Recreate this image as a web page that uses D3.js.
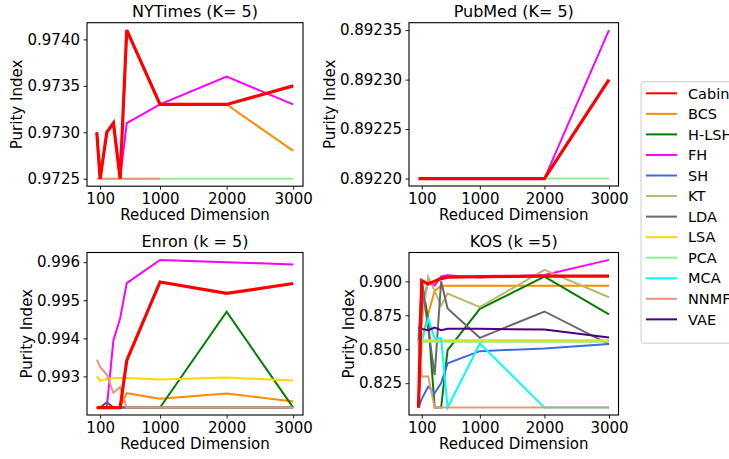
<!DOCTYPE html>
<html><head><meta charset="utf-8">
<script src="https://cdn.jsdelivr.net/npm/d3@7"></script>
<style>
html,body{margin:0;padding:0;background:#fff;}
svg{display:block;font-family:"DejaVu Sans",sans-serif;}
</style></head>
<body>
<svg id="chart" width="729" height="459"></svg>
<script>
// ---------- data ----------
const xValues = [50, 100, 200, 300, 400, 500, 1000, 2000, 3000];
const xTicks = [100, 1000, 2000, 3000];
const methods = ["Cabin","BCS","H-LSH","FH","SH","KT","LDA","LSA","PCA","MCA","NNMF","VAE"];
const methodColors = ["#ff0000","#ff8c00","#008000","#ff00ff","#4169e1","#bdb76b","#696969","#ffd700","#90ee90","#00ffff","#e9967a","#4b0082"];

// NYTimes (K= 5)
const nytCabin = [0.9730, 0.9725, 0.9730, 0.9731, 0.9725, 0.9741, 0.9733, 0.9733, 0.9735];
const nytBCS   = [0.9730, 0.9725, 0.9730, 0.9731, 0.9725, 0.9741, 0.9733, 0.9733, 0.9728];
const nytFH    = [0.9730, 0.9725, 0.9730, 0.9731, 0.9725, 0.9731, 0.9733, 0.9736, 0.9733];
const nytPCA   = [0.9725, 0.9725, 0.9725, 0.9725, 0.9725, 0.9725, 0.9725, 0.9725, 0.9725];
const nytNNMF  = [0.9725, 0.9725, 0.9725, 0.9725, 0.9725, 0.9725, 0.9725, null, null];
const nytYTicks = [0.9725, 0.9730, 0.9735, 0.9740];

// PubMed (K= 5)
const pubCabin = [0.8922, 0.8922, 0.8922, 0.8922, 0.8922, 0.8922, 0.8922, 0.8922, 0.8923];
const pubFH    = [0.8922, 0.8922, 0.8922, 0.8922, 0.8922, 0.8922, 0.8922, 0.8922, 0.89235];
const pubPCA   = [0.8922, 0.8922, 0.8922, 0.8922, 0.8922, 0.8922, 0.8922, 0.8922, 0.8922];
const pubYTicks = [0.89220, 0.89225, 0.89230, 0.89235];

// Enron (k = 5)
const enrCabin = [0.99218, 0.99218, 0.99218, 0.99218, 0.99218, 0.99342, 0.99548, 0.99518, 0.99544];
const enrBCS   = [0.99218, 0.99218, 0.99218, 0.99218, 0.99218, 0.99256, 0.99241, 0.99255, 0.99234];
const enrHLSH  = [0.99218, 0.99218, 0.99232, 0.99218, 0.99218, 0.99218, 0.99218, 0.99470, 0.99218];
const enrFH    = [0.99218, 0.99218, 0.99218, 0.99396, 0.99452, 0.99545, 0.99606, 0.99600, 0.99594];
const enrSH    = [0.99218, 0.99218, 0.99218, 0.99218, 0.99218, 0.99218, 0.99218, 0.99218, 0.99218];
const enrKT    = [0.99218, 0.99218, 0.99218, 0.99218, 0.99218, 0.99218, 0.99218, 0.99218, 0.99218];
const enrLDA   = [0.99218, 0.99218, 0.99218, 0.99218, 0.99218, 0.99218, 0.99218, 0.99218, 0.99218];
const enrLSA   = [0.99300, 0.99288, 0.99293, 0.99295, 0.99296, 0.99296, 0.99292, 0.99297, 0.99289];
const enrNNMF  = [0.99344, 0.99325, 0.99304, 0.99257, 0.99272, 0.99218, 0.99218, 0.99218, 0.99218];
const enrYTicks = [0.993, 0.994, 0.995, 0.996];

// KOS (k =5)
const kosCabin = [0.807, 0.9005, 0.8980, 0.9000, 0.9020, 0.9030, 0.9034, 0.9039, 0.9039];
const kosBCS   = [0.807, 0.8570, 0.8760, 0.8930, 0.8968, 0.8968, 0.8968, 0.8968, 0.8968];
const kosHLSH  = [0.807, 0.9000, 0.8720, 0.8070, 0.8070, 0.8494, 0.8798, 0.9034, 0.8757];
const kosFH    = [0.807, 0.8800, 0.9005, 0.8968, 0.9036, 0.9044, 0.9029, 0.9046, 0.9158];
const kosSH    = [0.807, 0.8135, 0.8225, 0.8177, 0.8250, 0.8396, 0.8486, 0.8506, 0.8538];
const kosKT    = [0.856, 0.8700, 0.9034, 0.8930, 0.8820, 0.8910, 0.8810, 0.9085, 0.8883];
const kosLDA   = [0.856, 0.9000, 0.8650, 0.8310, 0.9000, 0.8800, 0.8584, 0.8778, 0.8538];
const kosLSA   = [0.8566, 0.8566, 0.8566, 0.8566, 0.8566, 0.8566, 0.8566, 0.8566, 0.8566];
const kosPCA   = [0.8555, 0.8555, 0.8555, 0.8555, 0.8555, 0.8555, 0.8555, 0.8555, 0.8555];
const kosMCA   = [0.856, 0.8560, 0.8725, 0.8580, 0.8580, 0.8070, 0.8542, 0.8070, 0.8070];
const kosNNMF  = [0.856, 0.8300, 0.8300, 0.8070, 0.8070, 0.8070, 0.8070, 0.8070, 0.8070];
const kosVAE   = [0.866, 0.8650, 0.8640, 0.8660, 0.8640, 0.8650, 0.8650, 0.8645, 0.8586];
const kosYTicks = [0.825, 0.850, 0.875, 0.900];

// ---------- panels ----------
const panels = [
  {title: "NYTimes (K= 5)", fmt: ".4f", yTicks: nytYTicks, box: [87, 22.7, 216, 163.5],
   series: {Cabin: nytCabin, BCS: nytBCS, FH: nytFH, PCA: nytPCA, NNMF: nytNNMF}},
  {title: "PubMed (K= 5)", fmt: ".5f", yTicks: pubYTicks, box: [409, 22.7, 209.5, 163.3],
   series: {Cabin: pubCabin, FH: pubFH, PCA: pubPCA}},
  {title: "Enron (k = 5)", fmt: ".3f", yTicks: enrYTicks, box: [87, 252.5, 216, 162.5],
   series: {Cabin: enrCabin, BCS: enrBCS, "H-LSH": enrHLSH, FH: enrFH, SH: enrSH, KT: enrKT, LDA: enrLDA, LSA: enrLSA, NNMF: enrNNMF}},
  {title: "KOS (k =5)", fmt: ".3f", yTicks: kosYTicks, box: [409, 252.5, 209.5, 162.5],
   series: {Cabin: kosCabin, BCS: kosBCS, "H-LSH": kosHLSH, FH: kosFH, SH: kosSH, KT: kosKT, LDA: kosLDA, LSA: kosLSA, PCA: kosPCA, MCA: kosMCA, NNMF: kosNNMF, VAE: kosVAE}}
];

const svg = d3.select("#chart");
const FS = 15;
const color = d3.scaleOrdinal(methods, methodColors);

function padded(ext) {
  const m = (ext[1] - ext[0]) * 0.05;
  return [ext[0] - m, ext[1] + m];
}

panels.forEach(p => {
  const [L, T, W, H] = p.box;
  const g = svg.append("g");
  const x = d3.scaleLinear().domain(padded(d3.extent(xValues))).range([L, L + W]);
  const allVals = Object.values(p.series).flat().filter(v => v != null);
  const y = d3.scaleLinear().domain(padded(d3.extent(allVals))).range([T + H, T]);

  const clipId = "clip" + Math.round(L) + "_" + Math.round(T);
  svg.append("clipPath").attr("id", clipId).append("rect")
    .attr("x", L).attr("y", T).attr("width", W).attr("height", H);

  const line = d3.line().defined(d => d[1] != null).x(d => x(d[0])).y(d => y(d[1]));
  const names = methods.filter(m => p.series[m] && m !== "Cabin").concat(p.series.Cabin ? ["Cabin"] : []);
  const lg = g.append("g").attr("clip-path", `url(#${clipId})`);
  names.forEach(name => {
    const vals = p.series[name];
    lg.append("path")
      .datum(xValues.map((xv, i) => [xv, vals[i]]))
      .attr("d", line)
      .attr("fill", "none")
      .attr("stroke", color(name))
      .attr("stroke-width", name === "Cabin" ? 3.2 : 2)
      .attr("stroke-linejoin", "miter")
      .attr("stroke-linecap", "butt");
  });

  // axes
  const xAxis = g.append("g").attr("transform", `translate(0,${T + H})`)
    .call(d3.axisBottom(x).tickValues(xTicks).tickFormat(d3.format("d")).tickSize(3.5).tickPadding(3.5));
  const yAxis = g.append("g").attr("transform", `translate(${L},0)`)
    .call(d3.axisLeft(y).tickValues(p.yTicks).tickFormat(d3.format(p.fmt)).tickSize(3.5).tickPadding(3.5));
  [xAxis, yAxis].forEach(a => {
    a.select(".domain").remove();
    a.selectAll("line").attr("stroke", "#000").attr("stroke-width", 0.9);
    a.selectAll("text").attr("font-size", FS).attr("fill", "#000").attr("font-family", "DejaVu Sans");
  });

  // frame
  g.append("rect").attr("x", L).attr("y", T).attr("width", W).attr("height", H)
    .attr("fill", "none").attr("stroke", "#000").attr("stroke-width", 1.1);

  // title
  g.append("text").attr("x", L + W / 2).attr("y", T - 6).attr("text-anchor", "middle")
    .attr("font-size", 16).text(p.title);

  // x label
  g.append("text").attr("x", L + W / 2).attr("y", T + H + 34).attr("text-anchor", "middle")
    .attr("font-size", FS).text("Reduced Dimension");

  // y label (placed left of the tick labels)
  const bb = yAxis.node().getBBox();
  const lx = L + bb.x - 10.5;
  g.append("text").attr("transform", `translate(${lx},${T + H / 2}) rotate(-90)`)
    .attr("text-anchor", "middle").attr("dy", "0.35em")
    .attr("font-size", FS).text("Purity Index");
});

// legend
const legX = 641, legY = 81.7, rowH = 20.55;
const leg = svg.append("g");
leg.append("rect").attr("x", legX).attr("y", legY).attr("width", 110).attr("height", 261.5)
  .attr("rx", 3).attr("fill", "#fff").attr("fill-opacity", 0.8)
  .attr("stroke", "#cccccc").attr("stroke-width", 1);
methods.forEach((m, i) => {
  const yy = legY + 11.6 + i * rowH;
  leg.append("line").attr("x1", legX + 5).attr("x2", legX + 36).attr("y1", yy).attr("y2", yy)
    .attr("stroke", color(m)).attr("stroke-width", 2);
  leg.append("text").attr("x", legX + 47).attr("y", yy).attr("dy", "0.36em")
    .attr("font-size", 14.5).text(m);
});
</script>
</body></html>
